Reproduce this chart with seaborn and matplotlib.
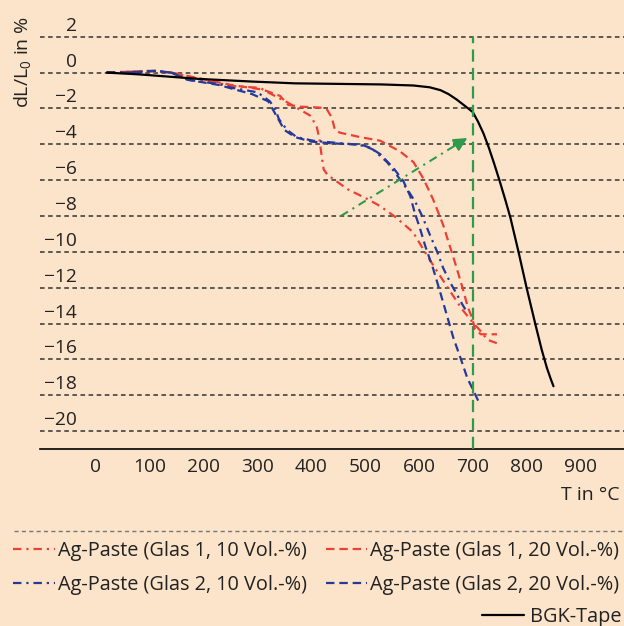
import matplotlib
matplotlib.use("Agg")
import numpy as np
import pandas as pd
import matplotlib.pyplot as plt
import seaborn as sns
from matplotlib.lines import Line2D
from matplotlib.transforms import ScaledTranslation

# ----------------------------------------------------------
# Daten
# ----------------------------------------------------------

t_bgk = [20, 80, 190, 290, 370, 450, 530, 590, 620, 640, 655, 670, 685, 700,
         710, 720, 730, 740, 750, 760, 770, 785, 800, 816, 828, 838, 845, 850]
dl_bgk = [0, -0.1, -0.35, -0.5, -0.6, -0.63, -0.66, -0.72, -0.82, -0.98, -1.2,
          -1.5, -1.85, -2.2, -2.75, -3.4, -4.2, -5.1, -6.05, -7.05, -8.1,
          -10.0, -12.0, -14.0, -15.45, -16.5, -17.1, -17.5]

t_g1_10 = [20, 60, 100, 140, 197, 253, 305, 316, 355, 398, 410, 415, 420, 423,
           430, 467, 504, 528, 556, 589, 615, 634, 658, 680, 699, 714, 727, 745]
dl_g1_10 = [0, 0.05, 0.08, 0.0, -0.4, -0.75, -0.85, -1.05, -1.65, -2.4, -3.0,
            -3.7, -4.8, -5.4, -5.7, -6.5, -7.05, -7.45, -8.05, -8.9, -10.2,
            -11.1, -12.2, -13.2, -13.9, -14.4, -14.9, -15.1]

t_g1_20 = [20, 60, 100, 140, 197, 253, 310, 342, 357, 379, 416, 429, 438, 444,
           453, 491, 528, 565, 590, 608, 626, 645, 667, 680, 691, 699, 704,
           715, 745]
dl_g1_20 = [0, 0.05, 0.1, 0.0, -0.35, -0.7, -0.95, -1.3, -1.8, -1.9, -1.95,
            -2.05, -2.5, -3.2, -3.35, -3.6, -3.8, -4.4, -5.0, -5.9, -7.05,
            -8.5, -10.6, -11.9, -13.1, -13.7, -14.3, -14.6, -14.6]

t_g2_10 = [20, 60, 110, 140, 170, 230, 253, 300, 323, 333, 340, 355, 373, 403,
           440, 478, 500, 515, 541, 561, 578, 593, 606, 621, 634, 645, 658,
           671, 680, 690]
dl_g2_10 = [0, 0.0, 0.1, 0.0, -0.4, -0.65, -0.85, -1.1, -1.6, -2.05, -2.6,
            -3.2, -3.6, -3.8, -3.9, -4.0, -4.1, -4.3, -5.0, -5.8, -6.5, -7.2,
            -8.0, -9.1, -10.0, -10.9, -11.7, -12.4, -12.9, -13.4]

t_g2_20 = [20, 60, 110, 140, 170, 230, 253, 290, 320, 335, 350, 370, 400, 440,
           478, 491, 510, 528, 552, 571, 584, 592, 602, 612, 626, 639, 652,
           664, 677, 690, 699, 710]
dl_g2_20 = [0, 0.0, 0.1, 0.0, -0.4, -0.7, -0.9, -1.2, -1.6, -2.4, -3.2, -3.6,
            -3.85, -3.95, -4.0, -4.0, -4.2, -4.55, -5.3, -6.05, -6.9, -7.8,
            -8.7, -9.7, -10.9, -12.2, -13.55, -14.8, -15.9, -17.05, -17.6,
            -18.3]

labels = ["Ag-Paste (Glas 1, 10 Vol.-%)", "Ag-Paste (Glas 1, 20 Vol.-%)",
          "Ag-Paste (Glas 2, 10 Vol.-%)", "Ag-Paste (Glas 2, 20 Vol.-%)",
          "BGK-Tape"]

y_ticks = list(range(-20, 3, 2))
x_ticks = list(range(0, 1000, 100))

t_marker = 700                       # grüne Linie
arrow_from = (455, -8.0)             # grüner Pfeil
arrow_to = (690, -3.65)

# ----------------------------------------------------------
# Stil
# ----------------------------------------------------------

bg = "#FCE4CA"
red = "#EC4034"
blue = "#24399A"
green = "#2E9B4A"
dashdot = (0, (3.8, 2.2, 1, 2.2))
dashed = (0, (3.8, 2.2))

sns.set_theme(style="white")
plt.rcParams["font.family"] = ["Open Sans", "DejaVu Sans"]
plt.rcParams["text.color"] = "#222222"

fig = plt.figure(figsize=(6.24, 6.26), dpi=100, facecolor=bg)
ax = fig.add_axes([40 / 624, 1 - 449 / 626, 1 - 40 / 624, 449 / 626])
ax.set_facecolor(bg)

ylo, yhi = -21, 4.05
ax.set_xlim(-104, 981)
ax.set_ylim(ylo, yhi)

series = [
    (t_g1_10, dl_g1_10, red, dashdot),
    (t_g1_20, dl_g1_20, red, dashed),
    (t_g2_10, dl_g2_10, blue, dashdot),
    (t_g2_20, dl_g2_20, blue, dashed),
    (t_bgk, dl_bgk, "black", "-"),
]

handles = []
for (t, dl, col, ls), lab in zip(series, labels):
    df = pd.DataFrame({"T": t, "dL": dl})
    sns.lineplot(data=df, x="T", y="dL", color=col, linestyle=ls, lw=1.6,
                 sort=False, estimator=None, ax=ax, zorder=3)
    handles.append(Line2D([], [], color=col, linestyle=ls, lw=1.6, label=lab))

# grüne Markierung bei 700 °C
ax.axvline(t_marker, ymin=0, ymax=(2 - ylo) / (yhi - ylo), color=green,
           lw=1.6, linestyle=(0, (5.5, 2.8)), zorder=4)
ax.plot([arrow_from[0], arrow_to[0] - 12], [arrow_from[1], arrow_to[1] - 0.22],
        color=green, lw=1.5, linestyle=(0, (4, 2.5, 1, 2.5)), zorder=4)
ax.annotate("", xy=arrow_to, xytext=(arrow_to[0] - 25, arrow_to[1] - 0.45),
            arrowprops=dict(arrowstyle="-|>", color=green, lw=1.5,
                            mutation_scale=20, shrinkA=0, shrinkB=0),
            zorder=5)

# Achsen
ax.set_yticks(y_ticks)
ax.set_xticks(x_ticks)
ax.yaxis.grid(True, linestyle=(0, (3, 2.3)), color="#333333", lw=1.1)
ax.xaxis.grid(False)
for s in ["top", "right", "left"]:
    ax.spines[s].set_visible(False)
ax.spines["bottom"].set_color("black")
ax.spines["bottom"].set_linewidth(1.2)

ax.tick_params(axis="x", length=0, pad=6.5, labelsize=13.8, labelcolor="#222222")
ax.tick_params(axis="y", length=0, pad=0, labelsize=13.8, labelcolor="#222222")
shift = ScaledTranslation(0.37, 0.13, fig.dpi_scale_trans)
for lbl in ax.get_yticklabels():
    lbl.set_transform(lbl.get_transform() + shift)

ax.set_xlabel("")
ax.set_ylabel("")
fig.text(620 / 624, 1 - 495 / 626, "T in °C", ha="right", va="center",
         fontsize=14)
fig.text(23 / 624, 1 - 16 / 626, r"dL/L$_\mathregular{0}$ in %", rotation=90,
         ha="center", va="top", fontsize=14)

# Legende
fig.add_artist(Line2D([14 / 624, 1], [1 - 531 / 626, 1 - 531 / 626],
                      transform=fig.transFigure, color="#777777", lw=1.0,
                      linestyle=(0, (3, 2.3))))

leg1 = fig.legend(handles=[handles[0], handles[2], handles[1], handles[3]],
                  ncol=2, loc="upper left", bbox_to_anchor=(13 / 624, 1 - 541 / 626),
                  frameon=False, fontsize=14.3, borderpad=0, borderaxespad=0,
                  handlelength=2.1, handletextpad=0.15, columnspacing=0.95,
                  labelspacing=0.7)
leg2 = fig.legend(handles=[handles[4]], loc="upper right",
                  bbox_to_anchor=(621 / 624, 1 - 607 / 626), frameon=False,
                  fontsize=14.3, borderpad=0, borderaxespad=0,
                  handlelength=2.1, handletextpad=0.3)

fig.savefig("out.png", dpi=100, facecolor=bg)
